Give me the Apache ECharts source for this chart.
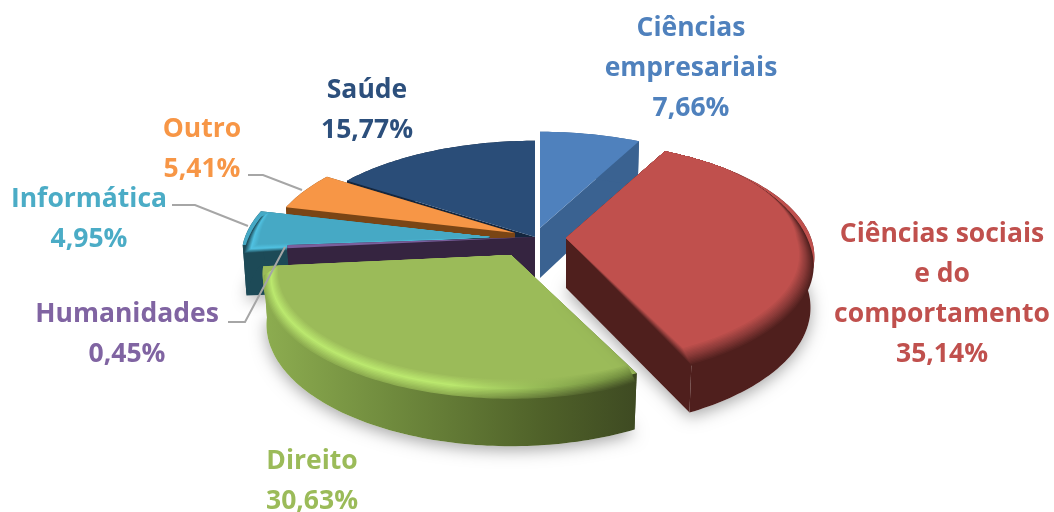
<!DOCTYPE html>
<html><head><meta charset="utf-8">
<style>html,body{margin:0;padding:0;background:#fff}#c{width:1054px;height:512px;filter:blur(0.6px)}</style>
<script src="https://cdn.jsdelivr.net/npm/echarts@6/dist/echarts.min.js"></script>
</head><body><div id="c"></div>
<script>
const categories = ['Ciências empresariais','Ciências sociais e do comportamento','Direito','Humanidades','Informática','Outro','Saúde'];
const labelLines = [['Ciências','empresariais'],['Ciências sociais','e do','comportamento'],['Direito'],['Humanidades'],['Informática'],['Outro'],['Saúde']];
const values = [7.66,35.14,30.63,0.45,4.95,5.41,15.77];

const offsets = [[5,-9],[31,1],[-24,18],[0,0],[-45,0],[-20,-4],[0,0]];
const paintOrder = [6,5,4,3,0,2,1];
const looks = [
 {face:'#4f81bd',wall:'#3a6291',text:'#4f81bd'},
 {face:'#c0504d',wall:'#4f1f1d',text:'#c0504d',rimL:['#c0504d','#8a3a38','#4f1f1d'],rimR:['#c0504d','#8a3a38','#4f1f1d'],shadow:1},
 {face:'#9bbb59',wall:null,text:'#9bbb59',rimL:['#9bbb59','#bbe86e','#8dad50'],rimR:['#9bbb59','#6f8a3d','#3e4a22'],shadow:1},
 {face:'#7a5f9c',wall:'#352440',text:'#8064a2'},
 {face:'#46a9c5',wall:'#1d4a57',text:'#4bacc6',rimL:['#46a9c5','#50c2e2','#1d4a57'],rimR:['#46a9c5','#50c2e2','#1d4a57'],shadow:1},
 {face:'#f79646',wall:'#7a4515',text:'#f79646'},
 {face:'#2a4d78',wall:'#14263e',text:'#2c4f7c'}
];
const labelPos = [[691,68],[942,294],[312,481],[127,334],[89,219],[202,149],[367,110]];
const leaders = [
 [[248,175],[263,175],[302,190]],
 [[172,205],[195,205],[248,226]],
 [[228,322],[245,322],[285,247]]
];

const G = {cx:535,cy:237,R:245,Ry:112,k:0.164,D:50,shrink:0.015};
const total = values.reduce((a,b)=>a+b,0);
function hex(c){return [1,3,5].map(i=>parseInt(c.substr(i,2),16));}
function mix(a,b,t){const x=hex(a),y=hex(b);return 'rgb('+x.map((v,i)=>Math.round(v+(y[i]-v)*t)).join(',')+')';}
function stops3(s,t){return t<.5?mix(s[0],s[1],t*2):mix(s[1],s[2],(t-.5)*2);}
function P(r,th,z,o){const rr=r*(1-G.shrink*z),u=rr*Math.sin(th),v=rr*Math.cos(th),s=1/(1+G.k*v);
  return [G.cx+o[0]+G.R*u*s, G.cy+o[1]-G.Ry*v*s+G.D*z*s];}
function arc(r,a,b,z,o){const n=Math.max(4,Math.ceil((b-a)/0.02)),p=[];
  for(let i=0;i<=n;i++)p.push(P(r,a+(b-a)*i/n,z,o));return p;}
function rimArc(t,a,b,o){const n=Math.max(4,Math.ceil((b-a)/0.02)),p=[];
  for(let i=0;i<=n;i++){const th=a+(b-a)*i/n,f=Math.max(0,Math.min(1,(0.7-Math.cos(th))/0.7));
    p.push(P(1-0.06*(1-t)*f,th,0.17*t*f,o));}
  return p;}
function grad(l,r){return new echarts.graphic.LinearGradient(0,0,1,0,[{offset:0,color:l},{offset:.5,color:l},{offset:1,color:r}]);}

function renderSlice(params,api){
  const i=params.dataIndex, val=api.value(0);
  let before=0; for(let j=0;j<i;j++)before+=values[j];
  const a=before/total*2*Math.PI, b=(before+val)/total*2*Math.PI;
  const o=offsets[i], L=looks[i], base=(paintOrder.indexOf(i)+1)*100;
  const kids=[]; let z=base;
  const add=(pts,fill,extra)=>kids.push({type:'polygon',z2:z++,shape:{points:pts},style:Object.assign({fill:fill},extra||{})});
  const wallFill = L.wall || new echarts.graphic.LinearGradient(0,0,1,0,[{offset:0,color:'#8dad50'},{offset:.35,color:'#6f8a3d'},{offset:.75,color:'#4f6129'},{offset:1,color:'#3e4a22'}]);
  const c0=P(0,0,0,o), c1=P(0,0,1,o);
  if(L.shadow){
    add([c1].concat(arc(1,a,b,1,o)),'#fff',{shadowBlur:16,shadowColor:'rgba(0,0,0,0.35)',shadowOffsetY:4});
  }
  const side = L.wall || '#8dad50', sideEnd = L.wall || '#3e4a22';
  add([c0,P(1,a,0,o),P(1,a,1,o),c1],sideEnd);
  add([c0,P(1,b,0,o),P(1,b,1,o),c1],side);
  add(arc(1,a,b,0,o).concat(arc(1,a,b,1,o).reverse()),wallFill);
  add([c0].concat(arc(1,a,b,0,o)),L.face);
  if(L.rimL){
    const N=14;
    for(let s=N;s>=0;s--){
      const t=s/N;
      add([c0].concat(rimArc(t,a,b,o)),grad(stops3(L.rimL,t),stops3(L.rimR,t)));
    }
  }
  return {type:'group',children:kids};
}

const fmt=v=>v.toFixed(2).replace('.',',')+'%';
const texts=categories.map((c,i)=>({type:'text',z:20,style:{
  x:labelPos[i][0],y:labelPos[i][1],
  text:labelLines[i].concat([fmt(values[i])]).join('\n'),
  align:'center',verticalAlign:'middle',lineHeight:40,
  font:'bold 26.5px "Open Sans"',fill:looks[i].text}}));
const lines=leaders.map(p=>({type:'polyline',z:19,shape:{points:p},style:{stroke:'#a6a6a6',lineWidth:2,fill:null}}));

const chart=echarts.init(document.getElementById('c'),null,{renderer:'canvas'});
chart.setOption({
  animation:false,
  backgroundColor:'#fff',
  graphic:{elements:lines.concat(texts)},
  series:[{type:'custom',coordinateSystem:'none',silent:true,clip:false,
    renderItem:renderSlice,
    data:categories.map((c,i)=>({name:c,value:[values[i]]}))}]
});
</script></body></html>
